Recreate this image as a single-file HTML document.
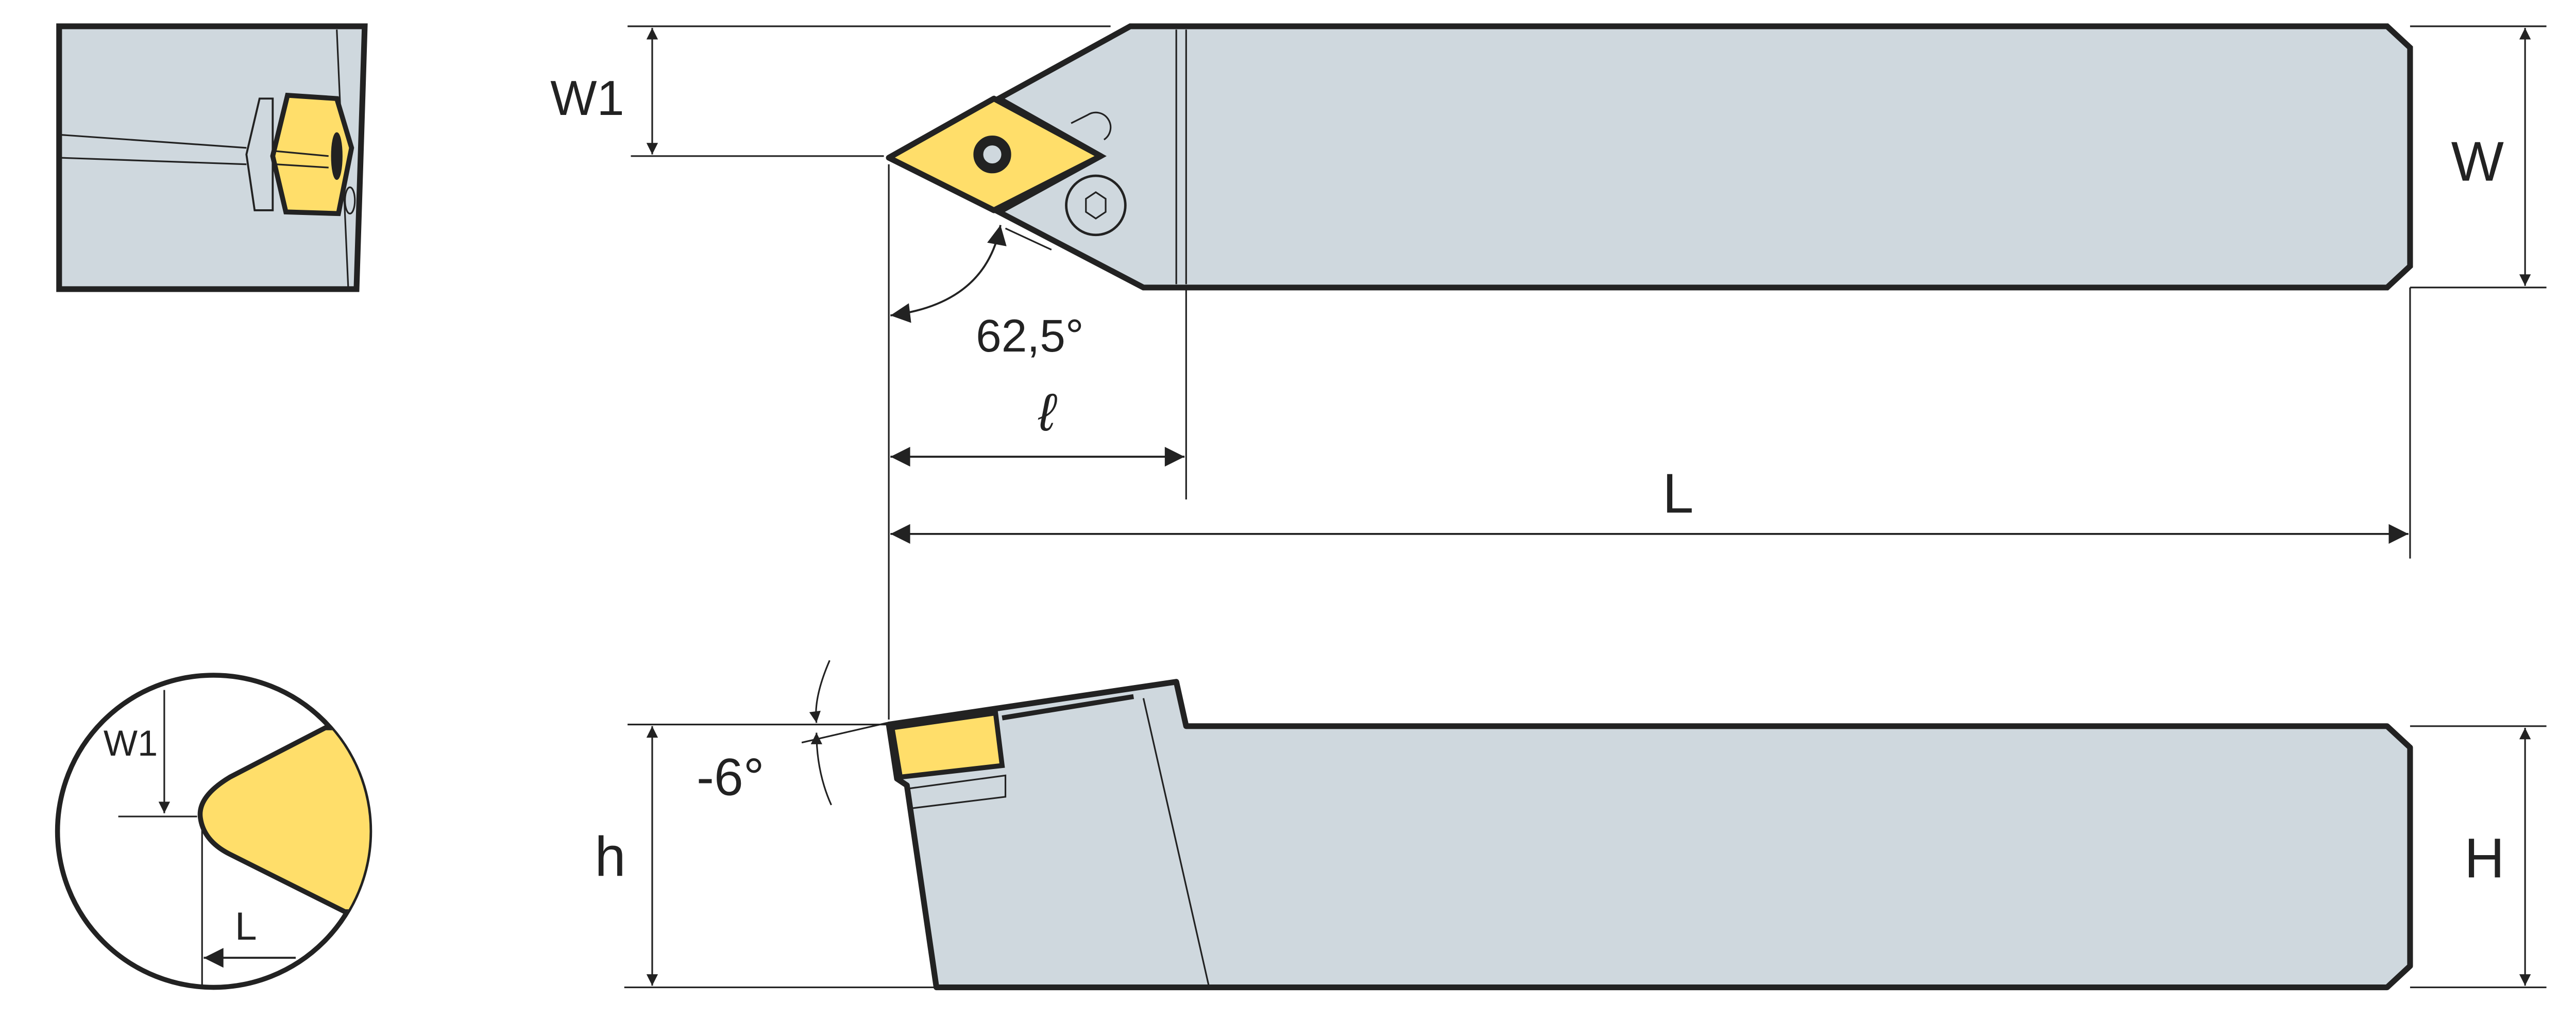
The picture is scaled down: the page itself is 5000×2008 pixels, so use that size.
<!DOCTYPE html>
<html><head><style>html,body{margin:0;padding:0;background:#fff}svg{display:block}text{font-family:"Liberation Sans",sans-serif;fill:#222}</style></head>
<body>
<svg width="5000" height="2008" viewBox="0 0 1568 630" preserveAspectRatio="none" xmlns="http://www.w3.org/2000/svg">
<defs>
<marker id="a" viewBox="0 0 10 10" refX="10" refY="5" markerWidth="22" markerHeight="7" markerUnits="userSpaceOnUse" orient="auto-start-reverse"><path d="M0,0 L10,5 L0,10 Z" fill="#222"/></marker>
<marker id="b" viewBox="0 0 10 10" refX="10" refY="5" markerWidth="26" markerHeight="12" markerUnits="userSpaceOnUse" orient="auto-start-reverse"><path d="M0,0 L10,5 L0,10 Z" fill="#222"/></marker>
<clipPath id="c"><circle cx="130" cy="506" r="95"/></clipPath>
</defs>
<g stroke="#222" fill="none">
<path d="M36,16 L222,16 L217,176 L36,176 Z" fill="#cfd8de" stroke-width="3.5"/>
<path d="M205,18 L212,176 M36,82 L150,90 M36,96 L150,100" stroke-width="1"/>
<path d="M158,60 L150,94 L155,128 L166,128 L166,60 Z" fill="#cfd8de" stroke-width="1.2"/>
<path d="M175,58 L205,60 L214,90 L206,130 L174,129 L166,95 Z" fill="#ffde6a" stroke-width="3"/>
<path d="M168,92 L200,95 M168,100 L200,102" stroke-width="1"/>
<ellipse cx="205" cy="95" rx="3" ry="14" fill="#222"/>
<ellipse cx="213" cy="122" rx="3" ry="8" stroke-width="1"/>
<path d="M688,16 L1453,16 L1467,29 L1467,162 L1453,175 L696,175 L608,129 L670,95 L608,60 Z" fill="#cfd8de" stroke-width="3.5"/>
<path d="M716,18 L716,173 M722,18 L722,173" stroke-width="1"/>
<path d="M541,96 L605,60 L670,95 L605,128 Z" fill="#ffde6a" stroke-width="3.5" stroke-linejoin="round"/>
<circle cx="604" cy="94" r="11" fill="#222"/><circle cx="604" cy="94" r="6" fill="#cfd8de"/>
<circle cx="667" cy="125" r="18" stroke-width="1.5"/>
<path d="M661,121 L667,117 L673,121 L673,129 L667,133 L661,129 Z" stroke-width="1"/>
<path d="M652,75 L662,70 A8,8 0 1 1 672,85" stroke-width="1"/>
<path d="M612,139 L640,152" stroke-width="1"/>
<path d="M382,16 L676,16 M384,95 L538,95 M1467,16 L1550,16 M1467,175 L1550,175 M541,100 L541,438 M722,175 L722,304 M1467,175 L1467,340" stroke-width="1"/>
<path d="M397,17 L397,94" stroke-width="1" marker-start="url(#a)" marker-end="url(#a)"/>
<path d="M1537,17 L1537,174" stroke-width="1" marker-start="url(#a)" marker-end="url(#a)"/>
<path d="M542,278 L721,278" stroke-width="1.2" marker-start="url(#b)" marker-end="url(#b)"/>
<path d="M542,325 L1466,325" stroke-width="1.2" marker-start="url(#b)" marker-end="url(#b)"/>
<path d="M542,192 Q600,185 609,137" stroke-width="1.2" marker-start="url(#b)" marker-end="url(#b)"/>
<path d="M541,441 L716,415 L722,442 L1453,442 L1467,455 L1467,588 L1453,601 L570,601 L552,478 L546,474 Z" fill="#cfd8de" stroke-width="3.5" stroke-linejoin="round"/>
<path d="M696,425 L736,601 M553,480 L612,472 L612,485 L555,492" stroke-width="1"/>
<path d="M610,437 L690,424" stroke-width="3"/>
<path d="M543,443 L606,434 L610,466 L548,473 Z" fill="#ffde6a" stroke-width="3"/>
<path d="M382,441 L540,441 M380,601 L570,601 M1467,442 L1550,442 M1467,601 L1550,601 M488,452 L540,440" stroke-width="1"/>
<path d="M397,442 L397,600" stroke-width="1" marker-start="url(#a)" marker-end="url(#a)"/>
<path d="M1537,443 L1537,600" stroke-width="1" marker-start="url(#a)" marker-end="url(#a)"/>
<path d="M505,402 Q495,425 497,440" stroke-width="1" marker-end="url(#a)"/>
<path d="M506,490 Q497,470 497,446" stroke-width="1" marker-end="url(#a)"/>
<circle cx="130" cy="506" r="95" fill="#fff" stroke-width="3"/>
<path clip-path="url(#c)" d="M198,443 L140,473 Q120,485 122,498 Q124,512 140,520 L210,555 L260,555 L260,443 Z" fill="#ffde6a" stroke-width="3"/>
<path d="M100,420 L100,495" stroke-width="1" marker-end="url(#a)"/>
<path d="M72,497 L120,497 M123,505 L123,600" stroke-width="1"/>
<path d="M180,583 L124,583" stroke-width="1.2" marker-end="url(#b)"/>
</g>
<g stroke="none">
<text x="335" y="70" font-size="30">W1</text>
<text x="1492" y="110" font-size="34">W</text>
<text x="594" y="214" font-size="28">62,5°</text>
<text x="632" y="262" font-size="32" font-style="italic" font-family="Liberation Serif">ℓ</text>
<text x="1012" y="312" font-size="34">L</text>
<text x="424" y="484" font-size="32">-6°</text>
<text x="362" y="533" font-size="34">h</text>
<text x="1500" y="534" font-size="34">H</text>
<text x="63" y="460" font-size="22">W1</text>
<text x="143" y="572" font-size="24">L</text>
</g>
</svg>
</body></html>
